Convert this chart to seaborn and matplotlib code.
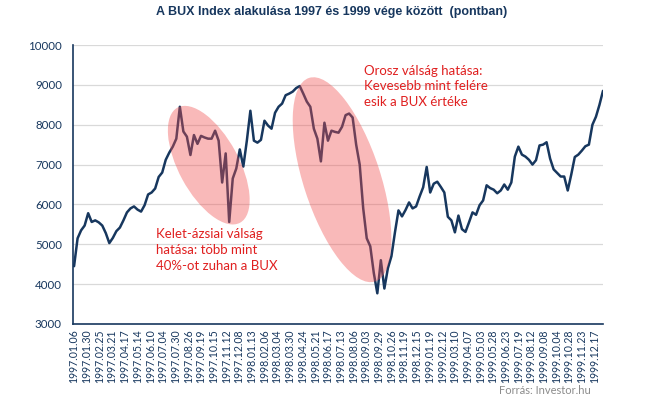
import numpy as np
import pandas as pd
import seaborn as sns
import matplotlib.pyplot as plt
import matplotlib.transforms as mtransforms
from matplotlib.patches import Ellipse

# BUX closing values, one every 5 trading days (1997.01 - 1999.12)
bux = [
    4450, 5150, 5350, 5470, 5780, 5560, 5600, 5550, 5470, 5280,
    5030, 5160, 5330, 5420, 5600, 5800, 5900, 5950, 5870, 5820,
    5980, 6250, 6300, 6400, 6690, 6800, 7120, 7300, 7450, 7650,
    8450, 7830, 7700, 7240, 7740, 7520, 7720, 7680, 7650, 7650,
    7850, 7600, 6550, 7280, 5560, 6650, 6900, 7380, 6950, 7600,
    8350, 7600, 7550, 7620, 8100, 7980, 7900, 8300, 8450, 8530,
    8740, 8780, 8830, 8920, 8970, 8780, 8580, 8450, 7900, 7650,
    7080, 8050, 7600, 7850, 7820, 7800, 7950, 8240, 8280, 8180,
    7500, 7000, 5900, 5150, 4950, 4280, 3770, 4600, 3890, 4400,
    4700, 5300, 5850, 5700, 5860, 6050, 5900, 5950, 6200, 6430,
    6940, 6300, 6520, 6570, 6440, 6300, 5690, 5600, 5300, 5720,
    5380, 5310, 5550, 5800, 5740, 5980, 6100, 6480, 6410, 6370,
    6280, 6350, 6500, 6370, 6550, 7200, 7450, 7250, 7200, 7120,
    7000, 7110, 7480, 7500, 7560, 7150, 6880, 6790, 6700, 6700,
    6350, 6750, 7190, 7250, 7350, 7460, 7500, 8000, 8200, 8500,
    8850,
]
STEP = 5  # trading days between two values

# category labels on the x axis, one every 18 trading days
tick_dates = [
    "1997.01.06", "1997.01.30", "1997.02.25", "1997.03.21", "1997.04.17",
    "1997.05.14", "1997.06.10", "1997.07.04", "1997.07.30", "1997.08.26",
    "1997.09.19", "1997.10.15", "1997.11.12", "1997.12.08", "1998.01.13",
    "1998.02.06", "1998.03.04", "1998.03.30", "1998.04.24", "1998.05.21",
    "1998.06.17", "1998.07.13", "1998.08.06", "1998.09.03", "1998.09.29",
    "1998.10.26", "1998.11.19", "1998.12.15", "1999.01.19", "1999.02.12",
    "1999.03.10", "1999.04.07", "1999.05.03", "1999.05.28", "1999.06.23",
    "1999.07.19", "1999.08.12", "1999.09.08", "1999.10.04", "1999.10.28",
    "1999.11.23", "1999.12.17",
]
TICK_STEP = 18

y_ticks = [3000, 4000, 5000, 6000, 7000, 8000, 9000, 10000]

NAVY = "#17375E"
RED = "#E02020"

sns.set_style("white")
plt.rcParams["font.family"] = ["Lato", "DejaVu Sans"]

df = pd.DataFrame({"day": np.arange(len(bux)) * STEP, "bux": bux})

fig = plt.figure(figsize=(6.45, 3.99), dpi=100)
ax = fig.add_axes([73 / 645, 75 / 399, 530 / 645, 279 / 399])

sns.lineplot(data=df, x="day", y="bux", ax=ax, color=NAVY, linewidth=1.8, zorder=2)

ax.set_xlim(-1.5, 750)
ax.set_ylim(3000, 10000)
ax.set_yticks(y_ticks)
ax.set_yticklabels([str(v) for v in y_ticks], fontsize=8.3, color=NAVY)
ax.set_xticks(np.arange(len(tick_dates)) * TICK_STEP)
ax.set_xticklabels(tick_dates, rotation=90, fontsize=7.6, color=NAVY)
ax.tick_params(axis="both", length=0)
ax.tick_params(axis="y", pad=8)
ax.tick_params(axis="x", pad=4)
ax.set_xlabel("")
ax.set_ylabel("")
ax.grid(axis="y", color="#D9D9D9", linewidth=0.9)
ax.set_axisbelow(True)
sns.despine(ax=ax, top=True, right=True)
for side in ("left", "bottom"):
    ax.spines[side].set_color(NAVY)
    ax.spines[side].set_linewidth(1.2)


def shade(xc, yc, w, h, angle):
    # ellipse sized in inches, centred on a data point
    trans = fig.dpi_scale_trans + mtransforms.ScaledTranslation(xc, yc, ax.transData)
    ax.add_patch(Ellipse((0, 0), w, h, angle=angle, transform=trans,
                         facecolor="#F05050", alpha=0.4, edgecolor="none",
                         zorder=3, clip_on=False))


shade(191, 6985, 1.31, 0.60, -61.5)
shade(380, 6620, 2.14, 0.77, -72)

ax.text(116, 5400, "Kelet-ázsiai válság\nhatása: több mint\n40%-ot zuhan a BUX",
        color=RED, fontsize=9.5, va="top", ha="left", linespacing=1.38)
ax.text(411, 9510, "Orosz válság hatása:\nKevesebb mint felére\nesik a BUX értéke",
        color=RED, fontsize=9.5, va="top", ha="left", linespacing=1.38)

fig.text(332 / 645, 1 - 12 / 399, "A BUX Index alakulása 1997 és 1999 vége között  (pontban)",
         ha="center", va="center", fontsize=9, fontweight="bold", color=NAVY,
         family=["Liberation Sans", "DejaVu Sans"])
fig.text(591 / 645, 1 - 391 / 399, "Forrás: Investor.hu", ha="right", va="center",
         fontsize=8, color="#8C8C8C")

fig.savefig("out.png", dpi=100)
